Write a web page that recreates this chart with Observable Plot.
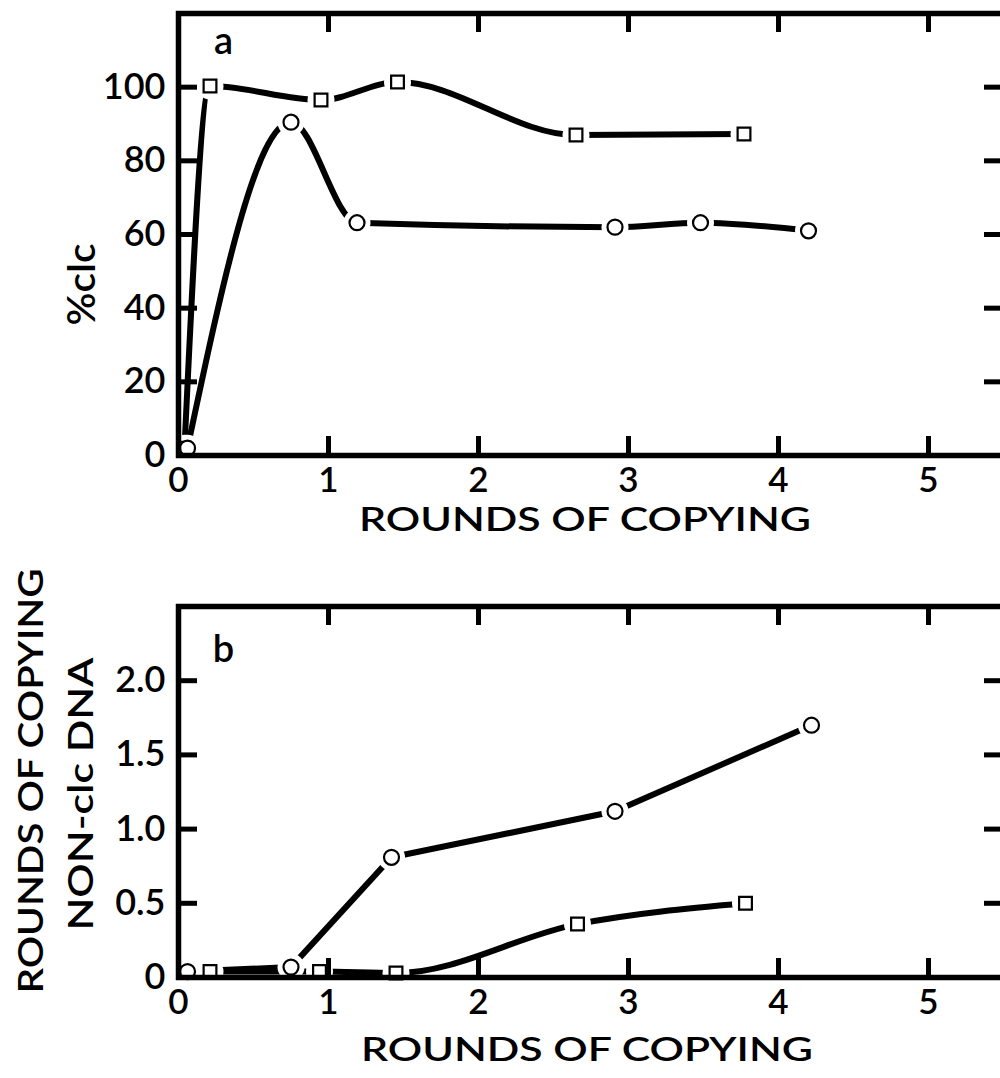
<!DOCTYPE html>
<html>
<head>
<meta charset="utf-8">
<script src="https://cdn.jsdelivr.net/npm/d3@7"></script>
<script src="https://cdn.jsdelivr.net/npm/@observablehq/plot@0.6"></script>
<style>
  html, body { margin: 0; padding: 0; background: #fff; overflow: hidden; width: 1000px; height: 1078px; }
  #chart svg { display: block; max-width: none !important; height: auto; }
</style>
</head>
<body>
<div id="chart"></div>
<script>
// ---- tick values / labels ----
const xTicks = [0, 1, 2, 3, 4, 5];
const yTicksA = [0, 20, 40, 60, 80, 100];
const yTicksB = [0, 0.5, 1, 1.5, 2];
const yTickLabelsB = ["0", "0.5", "1.0", "1.5", "2.0"];

// ---- text ----
const xTitle = "ROUNDS OF COPYING";
const yTitleA = "%clc";
const yTitleB1 = "ROUNDS OF COPYING";
const yTitleB2 = "NON-clc DNA";
const panelA = "a";
const panelB = "b";

// ---- panel a: % clc vs rounds of copying ----
const roundsA_square = [0.04, 0.21, 0.95, 1.46, 2.65, 3.77];
const clcA_square    = [2, 100.3, 96.5, 101.4, 87, 87.3];
const roundsA_circle = [0.06, 0.75, 1.19, 2.91, 3.48, 4.2];
const clcA_circle    = [2, 90.5, 63.2, 62, 63.2, 61];

// ---- panel b: rounds of copying of non-clc DNA ----
const roundsB_square = [0.21, 0.94, 1.45, 2.66, 3.78];
const nonclcB_square = [0.04, 0.04, 0.03, 0.36, 0.5];
const roundsB_circle = [0.06, 0.75, 1.42, 2.91, 4.22];
const nonclcB_circle = [0.04, 0.07, 0.81, 1.12, 1.70];

const zip = (xs, ys) => xs.map((x, i) => ({x, y: ys[i]}));

const FONT = "Lato, 'Open Sans', sans-serif";
const W = 1008, ML = 178, MR = 5;
const plotW = W - ML - MR;
const TICK = 19;
const WEIGHT = 600;

function panel({height, marginTop, marginBottom, yDomain, yTicks, yFormat, squares, circles, squareCurve, circleCurve, letter, letterDy, titleDy, titleDx, yTitles}) {
  const plotH = height - marginTop - marginBottom;
  const marks = [
    Plot.line(squares, {x: "x", y: "y", curve: squareCurve, stroke: "black", strokeWidth: 6, strokeLinecap: "round"}),
    Plot.line(circles, {x: "x", y: "y", curve: circleCurve, stroke: "black", strokeWidth: 6, strokeLinecap: "round"}),
    Plot.dot(squares, {x: "x", y: "y", r: 13.5, fill: "white", stroke: null}),
    Plot.dot(circles, {x: "x", y: "y", r: 13.5, fill: "white", stroke: null}),
    Plot.dot(squares, {x: "x", y: "y", symbol: "square", r: 7.2, fill: "white", stroke: "black", strokeWidth: 2.2}),
    Plot.dot(circles, {x: "x", y: "y", symbol: "circle", r: 7.5, fill: "white", stroke: "black", strokeWidth: 2.2}),
    Plot.frame({stroke: "black", strokeWidth: 5.5}),
    // inward ticks
    Plot.tickX(xTicks.slice(1), {x: d => d, stroke: "black", strokeWidth: 5, insetBottom: plotH - TICK}),
    Plot.tickX(xTicks.slice(1), {x: d => d, stroke: "black", strokeWidth: 5, insetTop: plotH - TICK}),
    Plot.tickY(yTicks.slice(1), {y: d => d, stroke: "black", strokeWidth: 5, insetRight: plotW - TICK}),
    Plot.tickY(yTicks.slice(1), {y: d => d, stroke: "black", strokeWidth: 5, insetLeft: plotW - TICK}),
    Plot.axisX({ticks: xTicks, tickSize: 0, tickPadding: 12, fontSize: 35, fontWeight: WEIGHT, label: null, tickFormat: d => String(d)}),
    Plot.axisY({ticks: yTicks, tickSize: 0, tickPadding: 13, fontSize: 36, fontWeight: WEIGHT, label: null, tickFormat: yFormat}),
    Plot.text([letter], {text: d => d, frameAnchor: "top-left", dx: 45, dy: letterDy, lineAnchor: "bottom", textAnchor: "middle", fontSize: 38, fontWeight: WEIGHT}),
    Plot.text([xTitle], {text: d => d, frameAnchor: "bottom", dx: titleDx, dy: titleDy, lineAnchor: "bottom", textAnchor: "middle", fontSize: 32, fontWeight: WEIGHT})
  ];
  yTitles.forEach((t) => {
    marks.push(Plot.text([t.text], {text: d => d, frameAnchor: "left", rotate: -90, dx: t.dx, dy: t.dy, lineAnchor: "middle", textAnchor: "middle", fontSize: t.size, fontWeight: WEIGHT}));
  });
  const svg = Plot.plot({
    width: W,
    height,
    marginLeft: ML,
    marginRight: MR,
    marginTop,
    marginBottom,
    style: {fontFamily: FONT, color: "black", background: "white", overflow: "visible", maxWidth: "none"},
    x: {domain: [0, 5.5]},
    y: {domain: yDomain},
    marks
  });
  // stretch the axis titles to the reference's wide lettering
  const texts = Array.from(svg.querySelectorAll("text"));
  const setLen = (t, len) => { t.setAttribute("textLength", len); t.setAttribute("lengthAdjust", "spacingAndGlyphs"); };
  texts.forEach(t => {
    const rotated = (t.getAttribute("transform") || "").includes("rotate");
    if (t.textContent === xTitle && !rotated) setLen(t, 452);
    yTitles.forEach(y => { if (rotated && t.textContent === y.text) setLen(t, y.len); });
  });
  return svg;
}

const chart = document.getElementById("chart");
chart.appendChild(panel({
  height: 545, marginTop: 13, marginBottom: 90,
  yDomain: [0, 120], yTicks: yTicksA, yFormat: d => String(d),
  squares: zip(roundsA_square, clcA_square),
  circles: zip(roundsA_circle, clcA_circle),
  squareCurve: "monotone-x", circleCurve: "monotone-x",
  letter: panelA, letterDy: 40, titleDy: 75, titleDx: -6,
  yTitles: [{text: yTitleA, dx: -96, dy: 50, size: 38, len: 82}]
}));
chart.appendChild(panel({
  height: 533, marginTop: 61, marginBottom: 101,
  yDomain: [0, 2.5], yTicks: yTicksB, yFormat: d => yTickLabelsB[yTicksB.indexOf(d)],
  squares: zip(roundsB_square, nonclcB_square),
  circles: zip(roundsB_circle, nonclcB_circle),
  squareCurve: "monotone-x", circleCurve: "linear",
  letter: panelB, letterDy: 55, titleDy: 83, titleDx: -4,
  yTitles: [
    {text: yTitleB1, dx: -146, dy: -11, size: 34, len: 425},
    {text: yTitleB2, dx: -96, dy: 2, size: 34, len: 273}
  ]
}));
</script>
</body>
</html>
